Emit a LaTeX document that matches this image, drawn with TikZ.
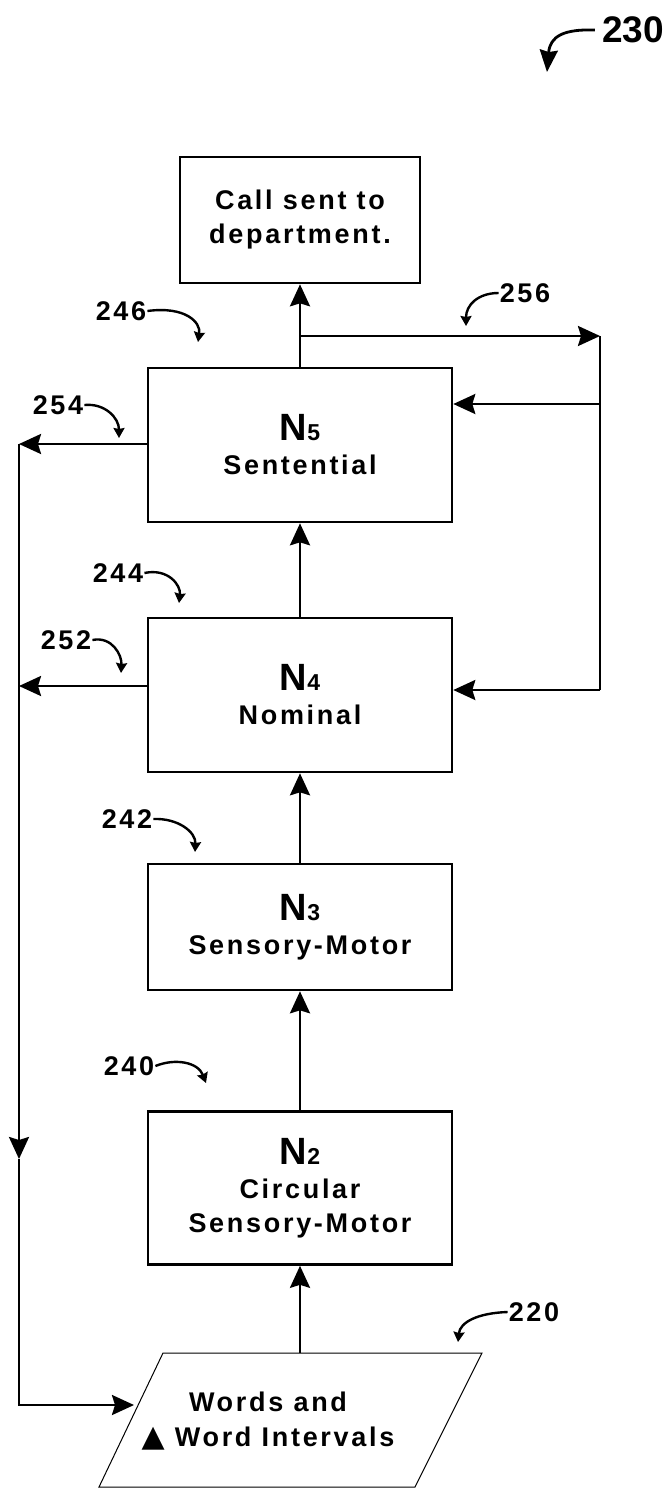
\documentclass[tikz,border=0pt]{standalone}
\usepackage{fontspec}
\setmainfont{Liberation Sans}
\newfontfamily\spacedfont{Liberation Sans}[LetterSpace=10]
\newfontfamily\symfont{DejaVu Sans}
\usetikzlibrary{arrows.meta,positioning}

\tikzset{
  stage/.style={draw, line width=2.6pt, minimum width=304pt, align=center,
    font=\spacedfont\bfseries\fontsize{27}{34}\selectfont},
  flow/.style={line width=2.6pt, -{Stealth[length=22pt,width=20pt,inset=3pt]}},
  wire/.style={line width=2.6pt},
  refnum/.style={font=\spacedfont\bfseries\fontsize{27}{28}\selectfont, inner sep=1pt},
  curl/.style={line width=2.4pt, -{Stealth[length=10pt,width=11pt,inset=1pt]}},
  bigcurl/.style={line width=2.8pt, -{Stealth[length=22pt,width=18pt,inset=2pt]}},
}
\newcommand{\lvlname}[2]{{\rmfamily\bfseries\fontsize{38}{40}\selectfont N\fontsize{23}{24}\selectfont #1}\\#2}

\begin{document}
\begin{tikzpicture}[x=1pt,y=-1pt]
  \useasboundingbox (0,0) rectangle (670,1488);

  % stages
  \node[stage, minimum width=240pt, minimum height=126pt] (call) at (300,220) {Call sent to\\department.};
  \node[stage, minimum height=154pt] (n5) at (300,445) {\lvlname{5}{Sentential}};
  \node[stage, minimum height=154pt] (n4) at (300,695) {\lvlname{4}{Nominal}};
  \node[stage, minimum height=126pt] (n3) at (300,927) {\lvlname{3}{Sensory-Motor}};
  \node[stage, minimum height=153pt] (n2) at (300,1188) {\lvlname{2}{Circular\\Sensory-Motor}};

  % input
  \draw[line width=1pt] (163,1353) -- (482,1353) -- (415,1487) -- (99,1487) -- cycle;
  \node[font=\spacedfont\bfseries\fontsize{27}{35}\selectfont, align=center] (words) at (268,1421)
    {Words and\\{\symfont\fontsize{30}{30}\selectfont ▲} Word Intervals};
  \coordinate (wtop) at (300,1353);
  \coordinate (wleft) at (134,1405);

  % upward flow
  \draw[flow] (wtop) -- (n2.south);
  \draw[flow] (n2.north) -- (n3.south);
  \draw[flow] (n3.north) -- (n4.south);
  \draw[flow] (n4.north) -- (n5.south);
  \draw[flow] (n5.north) -- (call.south);

  % right loop
  \coordinate (split) at (300,336);
  \coordinate (rtop) at (600,336);
  \coordinate (rmid) at (600,404);
  \coordinate (rbot) at (600,690);
  \draw[flow] (split) -- (rtop);
  \draw[wire] (rtop) -- (rbot);
  \draw[flow] (rmid) -- (n5.east |- rmid);
  \draw[flow] (rbot) -- (n4.east |- rbot);

  % left loop
  \coordinate (ltop) at (19,444);
  \coordinate (lmid) at (19,686);
  \coordinate (ldown) at (19,1159);
  \coordinate (lbot) at (19,1405);
  \draw[flow] (n5.west |- ltop) -- (ltop);
  \draw[flow] (n4.west |- lmid) -- (lmid);
  \draw[flow] (ltop) -- (ldown);
  \draw[flow] (ldown) -- (lbot) -- (wleft);

  % reference numerals
  \node[font=\rmfamily\bfseries\fontsize{37}{40}\selectfont, inner sep=2pt] (r230) at (633,30) {230};
  \draw[bigcurl] ([xshift=-5pt]r230.west) .. controls (564,29) and (550,36) .. (547,72);
  \node[refnum] (r246) at (121,311) {246};
  \draw[curl] (r246.east) .. controls (185,306) and (201,322) .. (198,342);
  \node[refnum] (r254) at (58,405) {254};
  \draw[curl] (r254.east) .. controls (105,403) and (119,418) .. (119,438);
  \node[refnum] (r256) at (525,293) {256};
  \draw[curl] (r256.west) .. controls (478,293) and (466,305) .. (466,326);
  \node[refnum] (r244) at (118,573) {244};
  \draw[curl] (r244.east) .. controls (168,568) and (181,585) .. (179,603);
  \node[refnum] (r252) at (66,640) {252};
  \draw[curl] (r252.east) .. controls (112,636) and (122,655) .. (121,673);
  \node[refnum] (r242) at (127,819) {242};
  \draw[curl] (r242.east) .. controls (178,818) and (196,832) .. (195,852);
  \node[refnum] (r240) at (129,1066) {240};
  \draw[curl] (r240.east) .. controls (175,1058) and (198,1062) .. (206,1083);
  \node[refnum] (r220) at (534,1312) {220};
  \draw[curl] (r220.west) .. controls (478,1313) and (460,1322) .. (458,1342);
\end{tikzpicture}
\end{document}
